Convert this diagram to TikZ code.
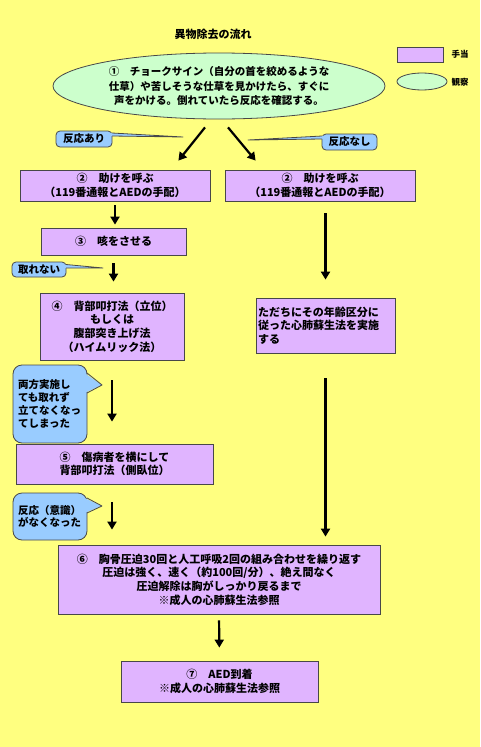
\documentclass[tikz,border=0pt]{standalone}
\usepackage{fontspec}
\setmainfont{Noto Sans CJK JP}
\usetikzlibrary{arrows.meta,shapes.geometric,calc}
\definecolor{bgyellow}{RGB}{255,255,128}
\definecolor{actfill}{RGB}{224,180,255}
\definecolor{obsfill}{RGB}{204,255,204}
\definecolor{callfill}{RGB}{153,204,255}
\definecolor{edgegray}{RGB}{72,72,72}
\tikzset{
  actbox/.style={draw=edgegray, fill=actfill, line width=0.8pt, inner sep=2pt, align=center, font=\fontsize{11}{13.7}\selectfont\bfseries},
  obsell/.style={ellipse, draw=edgegray, fill=obsfill, line width=0.8pt, inner sep=0pt, align=center},
  callout/.style={draw=edgegray, fill=callfill, line width=0.8pt, rounded corners=4pt, inner sep=0pt, font=\fontsize{10.5}{12.8}\selectfont\bfseries},
  tailfill/.style={fill=callfill},
  tailedge/.style={draw=edgegray, line width=0.8pt, line join=round},
  arr/.style={line width=2.2pt, -{Triangle[width=9pt,length=8pt]}},
  plain/.style={font=\fontsize{11}{13}\selectfont\bfseries},
  legtext/.style={font=\fontsize{8.5}{10}\selectfont\bfseries},
}
\begin{document}
\begin{tikzpicture}[x=1pt,y=-1pt]
\fill[bgyellow] (0,0) rectangle (480,747);
\useasboundingbox (0,0) rectangle (480,747);

% title and legend
\node[plain] (title) at (213,34) {異物除去の流れ};
\node[actbox, minimum width=46pt, minimum height=15pt] (legA) at (420,54.5) {};
\node[legtext] (legAt) at (460,54) {手当};
\node[obsell, minimum width=50pt, minimum height=17pt] (legO) at (422,81.5) {};
\node[legtext] (legOt) at (460,82) {観察};

% observation ellipse
\node[obsell, minimum width=332pt, minimum height=66pt, font=\fontsize{10.5}{14.5}\selectfont\bfseries] (e1) at (219,86)
  {①　チョークサイン（自分の首を絞めるような\\仕草）や苦しそうな仕草を見かけたら、すぐに\\声をかける。倒れていたら反応を確認する。};

% action boxes
\node[actbox, minimum width=190pt, minimum height=31pt] (b2L) at (115,185.5)
  {②　助けを呼ぶ\\（119番通報とAEDの手配）};
\node[actbox, minimum width=190pt, minimum height=31pt] (b2R) at (320,185.5)
  {②　助けを呼ぶ\\（119番通報とAEDの手配）};
\node[actbox, minimum width=145pt, minimum height=27pt] (b3) at (113.5,241.5)
  {③　咳をさせる};
\node[actbox, minimum width=144pt, minimum height=67pt] (b4) at (112,326.5)
  {④　背部叩打法（立位）\\もしくは\\腹部突き上げ法\\（ハイムリック法）};
\node[actbox, minimum width=139pt, minimum height=55pt, text width=135pt, align=left] (bR) at (325.5,325.5)
  {ただちにその年齢区分に\\従った心肺蘇生法を実施\\する};
\node[actbox, minimum width=197pt, minimum height=40pt] (b5) at (114.5,464)
  {⑤　傷病者を横にして\\背部叩打法（側臥位）};
\node[actbox, minimum width=322pt, minimum height=69pt] (b6) at (219,579.5)
  {⑥　胸骨圧迫30回と人工呼吸2回の組み合わせを繰り返す\\圧迫は強く、速く（約100回/分）、絶え間なく\\圧迫解除は胸がしっかり戻るまで\\※成人の心肺蘇生法参照};
\node[actbox, minimum width=197pt, minimum height=41pt] (b7) at (219.5,681.5)
  {⑦　AED到着\\※成人の心肺蘇生法参照};

% callouts
\node[callout, minimum width=56pt, minimum height=16pt] (c1) at (84,139) {反応あり};
\coordinate (t1) at (183,137);
\fill[tailfill] ($(c1.east)+(-3,-6)$) -- (t1) -- ($(c1.east)+(-3,-3)$) -- cycle;
\draw[tailedge] ($(c1.east)+(-0.4,-6)$) -- (t1) -- ($(c1.east)+(-0.4,-3)$);

\node[callout, minimum width=55pt, minimum height=16pt] (c2) at (349.5,142) {反応なし};
\coordinate (t2) at (248,140);
\fill[tailfill] ($(c2.west)+(3,-6)$) -- (t2) -- ($(c2.west)+(3,-3)$) -- cycle;
\draw[tailedge] ($(c2.west)+(0.4,-6)$) -- (t2) -- ($(c2.west)+(0.4,-3)$);

\node[callout, minimum width=54pt, minimum height=15pt] (c3) at (39,269.5) {取れない};
\coordinate (t3) at (103,268);
\fill[tailfill] ($(c3.east)+(-3,-5)$) -- (t3) -- ($(c3.east)+(-3,-1.5)$) -- cycle;
\draw[tailedge] ($(c3.east)+(-0.4,-5)$) -- (t3) -- ($(c3.east)+(-0.4,-1.5)$);

\node[callout, rounded corners=9pt, minimum width=74pt, minimum height=78pt, text width=64pt, align=left] (c4) at (50,404)
  {両方実施し\\ても取れず\\立てなくなっ\\てしまった};
\coordinate (t4) at (102,385);
\fill[tailfill] ($(c4.east)+(-3,-31)$) -- (t4) -- ($(c4.east)+(-3,-11)$) -- cycle;
\draw[tailedge] ($(c4.east)+(-0.4,-31)$) -- (t4) -- ($(c4.east)+(-0.4,-11)$);

\node[callout, rounded corners=9pt, minimum width=74pt, minimum height=47pt, text width=64pt, align=left] (c5) at (50,516.5)
  {反応（意識）\\がなくなった};
\coordinate (t5) at (102,506);
\fill[tailfill] ($(c5.east)+(-3,-18.5)$) -- (t5) -- ($(c5.east)+(-3,-3.5)$) -- cycle;
\draw[tailedge] ($(c5.east)+(-0.4,-18.5)$) -- (t5) -- ($(c5.east)+(-0.4,-3.5)$);

% arrows
\draw[arr] ($(e1.south)+(-14,8)$) -- ($(b2L.north east)+(-32,-9)$);
\draw[arr] ($(e1.south)+(9,8)$) -- ($(b2R.north west)+(31,-9)$);
\draw[arr, shorten <=4pt, shorten >=3pt] (b2L.south) -- (b2L.south |- b3.north);
\draw[arr, shorten <=8pt, shorten >=11pt] (b3.south) -- (b3.south |- b4.north);
\draw[arr, shorten <=20pt, shorten >=22pt] (b4.south) -- (b4.south |- b5.north);
\draw[arr, shorten <=18pt, shorten >=15pt] (b4.south |- b5.south) -- (b4.south |- b6.north);
\draw[arr, shorten <=12pt, shorten >=18pt] (bR.north |- b2R.south) -- (bR.north);
\draw[arr, shorten <=25pt, shorten >=8pt] (bR.south) -- (bR.south |- b6.north);
\draw[arr, shorten <=6pt, shorten >=13pt] (b6.south) -- (b7.north);
\end{tikzpicture}
\end{document}
